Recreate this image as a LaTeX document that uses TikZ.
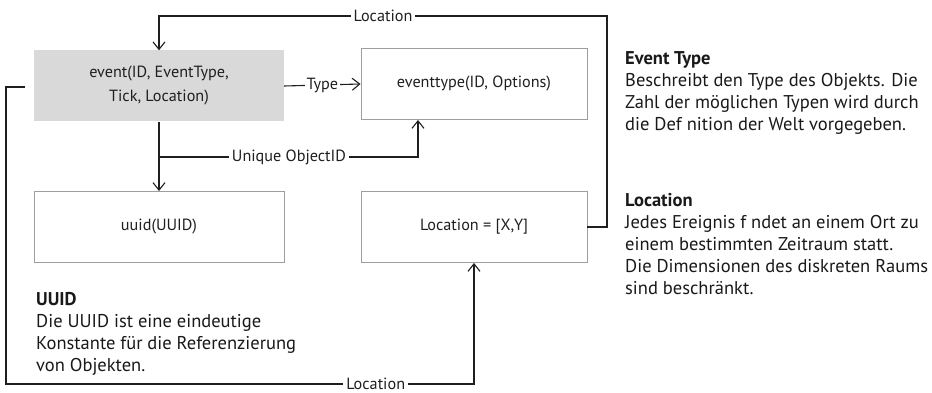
\documentclass[tikz,border=0pt]{standalone}
\usepackage{fontspec}
\setmainfont{PT Sans}
\usetikzlibrary{arrows.meta,calc}
\begin{document}
\begin{tikzpicture}[x=1pt,y=-1pt,
  font=\fontsize{16.2}{24}\selectfont,
  box/.style={draw=black!38,line width=0.9pt,minimum height=71pt,align=center,inner sep=0pt,text=black!88},
  greybox/.style={fill=black!15,minimum height=71pt,align=center,inner sep=0pt,text=black!88},
  arr/.style={draw=black!88,line width=1.1pt,-{Straight Barb[length=7.5pt,width=12pt]}},
  lbl/.style={fill=white,inner sep=3pt,text=black!88},
  desc/.style={anchor=north west,align=left,inner sep=0pt,text=black!90,font=\fontsize{18.5}{22}\selectfont}]
\useasboundingbox (0,0) rectangle (932,393);

% main boxes
\node[greybox,minimum width=250pt] (ev) at (159,86) {event(ID, EventType,\\Tick, Location)};
\node[box,minimum width=226pt] (et) at (474,84) {eventtype(ID, Options)};
\node[box,minimum width=250pt] (uu) at (159,227) {uuid(UUID)};
\node[box,minimum width=226pt] (loc) at (474,227) {Location = [X,Y]};

% helper points of the routed connectors
\coordinate (topR) at (607,16);
\coordinate (topL) at (ev.north|-topR);
\coordinate (lfS) at (25,87);
\coordinate (lfT) at (6,87);
\coordinate (lfB) at (6,384);
\coordinate (btR) at (loc.south|-lfB);
\coordinate (brS) at (160,157);
\coordinate (brE) at (418,157);

% connectors
\draw[arr] (loc.east) -| (topR) -- node[lbl,pos=0.5]{Location} (topL) -- (ev.north);
\draw[arr] (ev.east) -- node[lbl,inner sep=2pt]{Type} (et.west);
\draw[arr] (ev.south) -- (uu.north);
\draw[arr] (brS) -- node[lbl,pos=0.5]{Unique ObjectID} (brE) -- (brE|-et.south);
\draw[arr] (lfS) -- (lfT) -- (lfB) -- node[lbl,pos=0.79,inner ysep=0pt]{Location} (btR) -- (loc.south);

% descriptions
\node[desc] (dEt) at (625,51) {\textbf{Event Type}\\Beschreibt den Type des Objekts. Die\\Zahl der möglichen Typen wird durch\\die Def nition der Welt vorgegeben.};
\node[desc] (dLoc) at (625,193) {\textbf{Location}\\Jedes Ereignis f ndet an einem Ort zu\\einem bestimmten Zeitraum statt.\\Die Dimensionen des diskreten Raums\\sind beschränkt.};
\node[desc] (dUu) at (36,292) {\textbf{UUID}\\Die UUID ist eine eindeutige\\Konstante für die Referenzierung\\von Objekten.};
\end{tikzpicture}
\end{document}
